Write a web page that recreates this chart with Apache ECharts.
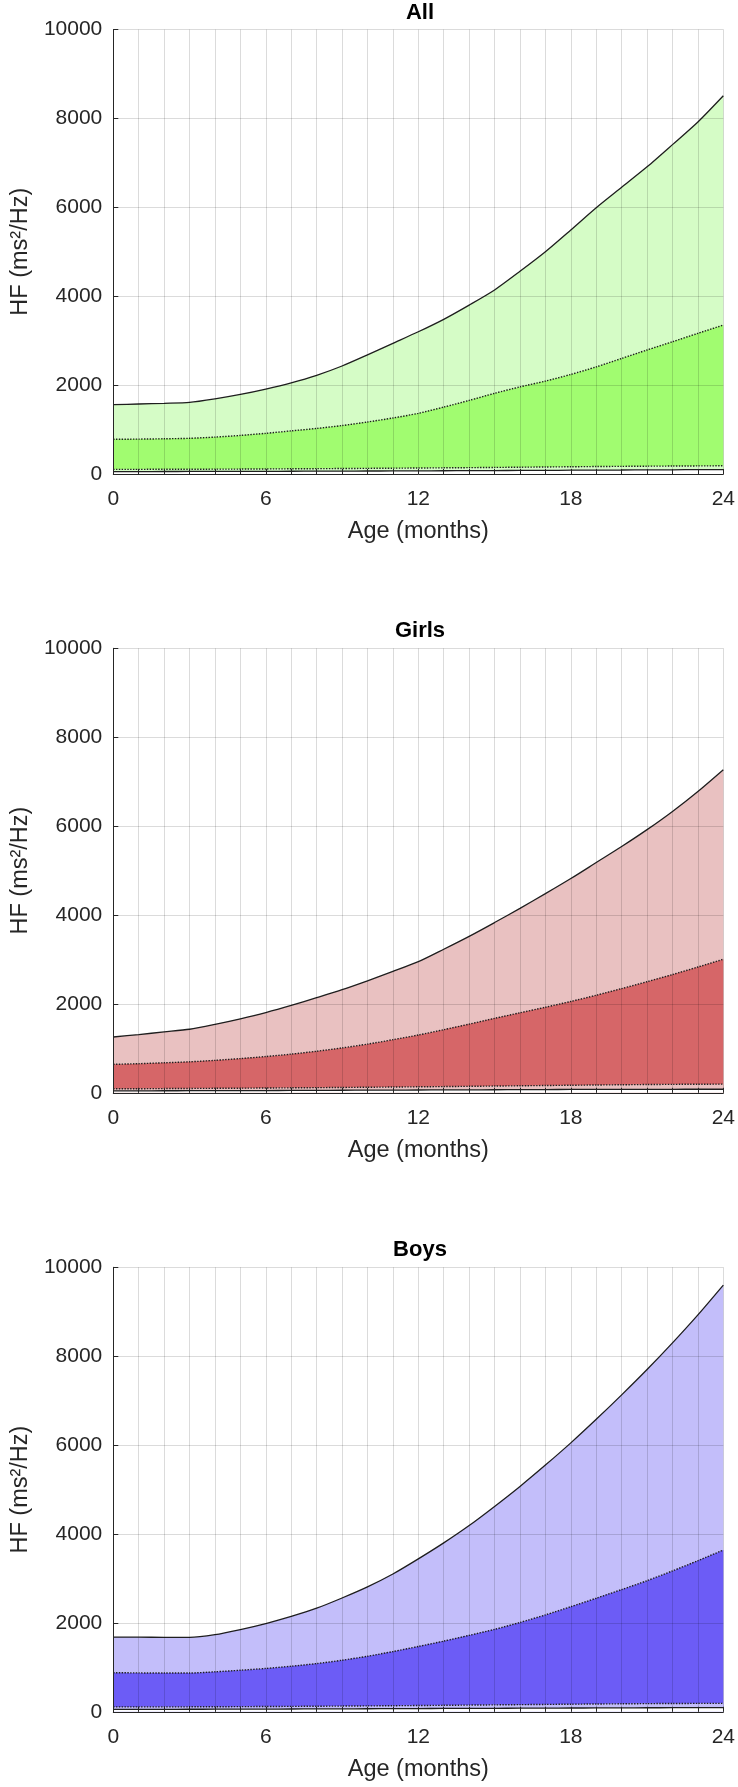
<!DOCTYPE html>
<html>
<head>
<meta charset="utf-8">
<script src="https://cdn.jsdelivr.net/npm/echarts@6/dist/echarts.min.js"></script>
<style>
html,body{margin:0;padding:0;background:#fff;}
#chart{width:738px;height:1787px;}
</style>
</head>
<body>
<div id="chart"></div>
<script>
// ---- data ----
const months = [0,1,2,3,4,5,6,7,8,9,10,11,12,13,14,15,16,17,18,19,20,21,22,23,24];
const xTickLabels = [0,6,12,18,24];
const yTickLabels = [0,2000,4000,6000,8000,10000];
const panelTitles = ['All','Girls','Boys'];

const allHigh   = [1560,1575,1590,1610,1690,1790,1910,2050,2220,2430,2680,2940,3200,3480,3800,4140,4560,5000,5490,5990,6450,6910,7410,7920,8510];
const allMid    = [780,785,792,803,830,868,915,970,1025,1090,1170,1260,1365,1505,1655,1815,1960,2090,2240,2410,2600,2790,2975,3165,3350];
const allLowDot = [105,105,106,107,109,111,114,117,120,123,127,131,135,139,143,148,153,158,163,168,172,176,179,182,185];
const allLow    = [55,55,56,57,58,59,60,62,63,65,67,69,71,73,75,77,80,82,85,88,90,93,95,98,100];

const girlsHigh   = [1255,1310,1370,1430,1540,1665,1805,1965,2140,2320,2520,2730,2950,3230,3520,3830,4150,4480,4820,5180,5540,5920,6330,6780,7270];
const girlsMid    = [640,655,675,697,730,770,816,870,935,1010,1095,1195,1300,1420,1545,1675,1800,1925,2055,2195,2345,2500,2660,2830,3005];
const girlsLowDot = [90,92,95,98,101,104,108,112,116,120,125,130,135,140,146,152,158,164,170,176,181,186,190,193,195];
const girlsLow    = [45,45,46,47,48,50,51,53,55,57,59,61,63,65,67,69,71,73,75,76,77,78,79,80,80];

const boysHigh   = [1680,1678,1676,1675,1735,1850,1985,2145,2330,2560,2810,3100,3440,3800,4190,4620,5070,5550,6050,6580,7130,7700,8300,8930,9600];
const boysMid    = [880,875,872,872,900,935,976,1025,1085,1160,1250,1355,1470,1590,1720,1855,2010,2180,2365,2555,2750,2950,3170,3400,3640];
const boysLowDot = [110,110,111,112,114,116,119,122,125,129,133,137,141,146,151,156,161,166,171,176,180,184,187,189,190];
const boysLow    = [55,55,56,57,58,60,61,63,65,67,69,71,73,75,77,79,81,83,85,87,89,91,92,94,95];

// ---- styles / layout ----
const FONT = 'Liberation Sans, Arial, Helvetica, sans-serif';
const AXIS_COLOR = '#262626';
const GRID_LINE = 'rgba(0,0,0,0.14)';
const panels = [
  {title: panelTitles[0], low: allLow, lowDot: allLowDot, mid: allMid, high: allHigh, light: '#d5fcc6', dark: '#a1fc70', top: 29.5},
  {title: panelTitles[1], low: girlsLow, lowDot: girlsLowDot, mid: girlsMid, high: girlsHigh, light: '#e9c1c1', dark: '#d66668', top: 648.3},
  {title: panelTitles[2], low: boysLow, lowDot: boysLowDot, mid: boysMid, high: boysHigh, light: '#c3befa', dark: '#6c5cf6', top: 1267.3}
];
const GRID_LEFT = 113.3, GRID_W = 613.4, GRID_H = 444.5;

const grids = [], xAxes = [], yAxes = [], titles = [], series = [];
panels.forEach((p, i) => {
  grids.push({left: GRID_LEFT, top: p.top, width: GRID_W, height: GRID_H, containLabel: false});
  titles.push({
    text: p.title, left: GRID_LEFT + GRID_W / 2, top: p.top - 28, textAlign: 'center', padding: 0,
    textStyle: {fontSize: 22, fontWeight: 'bold', color: '#000', fontFamily: FONT}
  });
  xAxes.push({
    gridIndex: i, type: 'value', min: xTickLabels[0], max: xTickLabels[xTickLabels.length - 1], interval: 6,
    z: 10,
    name: 'Age (months)', nameLocation: 'middle', nameGap: 46,
    nameTextStyle: {fontSize: 23.5, color: AXIS_COLOR, fontFamily: FONT},
    axisLine: {show: true, onZero: false, lineStyle: {color: AXIS_COLOR, width: 1}},
    axisTick: {show: true, inside: true, length: 5, lineStyle: {color: AXIS_COLOR}},
    minorTick: {show: true, splitNumber: 6, length: 5, lineStyle: {color: AXIS_COLOR}},
    axisLabel: {fontSize: 21, margin: 15, color: AXIS_COLOR, fontFamily: FONT, formatter: v => String(v)},
    splitLine: {show: true, lineStyle: {color: GRID_LINE, width: 1}},
    minorSplitLine: {show: true, lineStyle: {color: GRID_LINE, width: 1}}
  });
  yAxes.push({
    gridIndex: i, type: 'value', min: yTickLabels[0], max: yTickLabels[yTickLabels.length - 1], interval: 2000,
    z: 10,
    name: 'HF (ms²/Hz)', nameLocation: 'middle', nameGap: 73, nameRotate: 90,
    nameTextStyle: {fontSize: 23.5, color: AXIS_COLOR, fontFamily: FONT},
    axisLine: {show: true, onZero: false, lineStyle: {color: AXIS_COLOR, width: 1}},
    axisTick: {show: true, inside: true, length: 5, lineStyle: {color: AXIS_COLOR}},
    axisLabel: {fontSize: 21, margin: 11, color: AXIS_COLOR, fontFamily: FONT, formatter: v => String(v)},
    splitLine: {show: true, lineStyle: {color: GRID_LINE, width: 1}}
  });
  const layers = [
    {vals: p.high,   fill: p.light, type: 'solid'},
    {vals: p.mid,    fill: p.dark,  type: 'dotted'},
    {vals: p.lowDot, fill: p.light, type: 'dotted'},
    {vals: p.low,    fill: '#ffffff', type: 'solid'}
  ];
  layers.forEach(l => {
    series.push({
      type: 'line', xAxisIndex: i, yAxisIndex: i, symbol: 'none', silent: true,
      smooth: 0.25,
      data: months.map((m, k) => [m, l.vals[k]]),
      lineStyle: {color: '#1e1e1e', width: l.type === 'solid' ? 1.3 : 1.4, type: l.type},
      areaStyle: {color: l.fill, opacity: 1, origin: 'start'}
    });
  });
});

const chart = echarts.init(document.getElementById('chart'), null, {renderer: 'canvas'});
chart.setOption({
  animation: false,
  backgroundColor: '#ffffff',
  textStyle: {fontFamily: FONT},
  title: titles,
  grid: grids,
  xAxis: xAxes,
  yAxis: yAxes,
  series: series
});
</script>
</body>
</html>
